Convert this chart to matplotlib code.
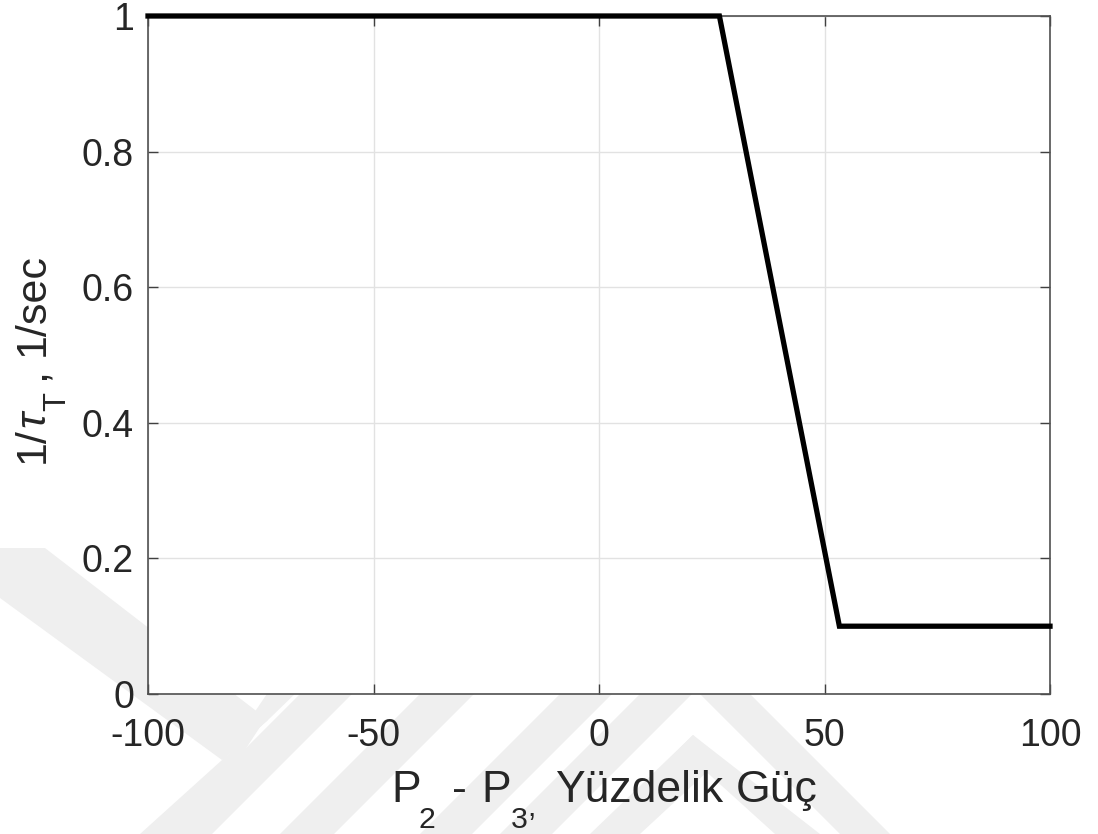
import matplotlib
matplotlib.use('Agg')
import matplotlib.pyplot as plt
from matplotlib.patches import Polygon

# Turbine time-constant schedule vs. power difference
p_diff = [-100, 26.7, 53.3, 100]
inv_tau = [1.0, 1.0, 0.1, 0.1]

x_ticks = [-100, -50, 0, 50, 100]
x_tick_labels = ['-100', '-50', '0', '50', '100']
y_ticks = [0, 0.2, 0.4, 0.6, 0.8, 1.0]
y_tick_labels = ['0', '0.2', '0.4', '0.6', '0.8', '1']

# label pieces: (text, size factor, drop below baseline in px, style, spaces before)
x_label_parts = [
    ('P', 1.0, 0, 'normal', 0),
    ('2', 0.68, 26, 'normal', -0.15),
    ('-', 1.0, 0, 'normal', 1.3),
    ('P', 1.0, 0, 'normal', 1.2),
    ('3', 0.68, 26, 'normal', 0),
    (',', 0.68, 14, 'normal', 0),
    ('Yüzdelik', 1.0, 0, 'normal', 1.5),
    ('Güç', 1.0, 0, 'normal', 1),
]
y_label_parts = [
    ('1/', 1.0, 0, 'normal', 0),
    ('τ', 1.0, 0, 'italic', 0),
    ('T', 0.72, 21, 'normal', 0),
    (',', 1.0, 0, 'normal', 1),
    ('1/sec', 1.0, 0, 'normal', 1),
]

plt.rcParams['font.family'] = ['Liberation Sans', 'DejaVu Sans']

W, H = 1098, 834
TXT = '#262626'
fig = plt.figure(figsize=(W / 100, H / 100), dpi=100)
renderer = fig.canvas.get_renderer()

# faint background stripes (pixel outlines, y measured from top)
stripes = [
    [(0, 548), (45, 548), (268, 720), (222, 760), (0, 598)],
    [(222, 760), (268, 720), (330, 660), (290, 660)],
    [(222, 760), (262, 724), (190, 834), (140, 834)],
    [(300, 694), (352, 694), (212, 834), (160, 834)],
    [(420, 694), (474, 694), (334, 834), (280, 834)],
    [(560, 694), (612, 694), (472, 834), (420, 834)],
    [(640, 694), (692, 694), (552, 834), (500, 834)],
    [(693, 735), (720, 760), (640, 834), (590, 834)],
    [(693, 735), (680, 748), (775, 834), (820, 834)],
    [(700, 694), (750, 694), (890, 834), (840, 834)],
]
for pts in stripes:
    fig.patches.append(Polygon([(x / W, 1 - y / H) for x, y in pts],
                               closed=True, transform=fig.transFigure,
                               facecolor='#efefef', edgecolor='none', zorder=0))

ax = fig.add_axes([148 / W, 1 - 694 / H, 902 / W, 678 / H])
ax.set_facecolor('white')
ax.set_zorder(1)

ax.plot(p_diff, inv_tau, color='black', linewidth=3.8, clip_on=False,
        solid_joinstyle='miter', zorder=3)

ax.set_xlim(-100, 100)
ax.set_ylim(0, 1)
ax.set_xticks(x_ticks)
ax.set_xticklabels(x_tick_labels)
ax.set_yticks(y_ticks)
ax.set_yticklabels(y_tick_labels)

ax.grid(True, color='#e2e2e2', linewidth=1.0)
ax.set_axisbelow(True)
ax.tick_params(direction='in', length=7, width=1.0, color='#404040',
               labelsize=27, labelcolor=TXT, top=True, right=True)
ax.tick_params(axis='x', pad=17)
ax.tick_params(axis='y', pad=10)
for s in ax.spines.values():
    s.set_color('#505050')
    s.set_linewidth(1.2)


def ink_width(s, size, style='normal'):
    t = fig.text(0, 0, s, fontsize=size, fontstyle=style)
    w = t.get_window_extent(renderer).width
    t.remove()
    return w


def advance(s, size, style='normal'):
    return ink_width(s + 'l', size, style) - ink_width('l', size, style)


def draw_label(parts, size, centre, baseline, vertical=False):
    """Lay out text pieces with sub-baseline offsets (TeX-style subscripts)."""
    space = ink_width('a a', size) - ink_width('aa', size)
    steps = []
    pos = 0.0
    for text, k, drop, style, sp in parts:
        pos += sp * space
        steps.append((pos, text, size * k, drop, style))
        pos += advance(text, size * k, style)
    start = centre - pos / 2 if not vertical else centre + pos / 2
    for off, text, fs, drop, style in steps:
        if vertical:
            x, y, rot = baseline + drop, start - off, 90
        else:
            x, y, rot = start + off, baseline + drop, 0
        fig.text(x / W, 1 - y / H, text, fontsize=fs, fontstyle=style,
                 color=TXT, ha='left', va='baseline', rotation=rot,
                 rotation_mode='anchor')


draw_label(x_label_parts, 32, 604, 802)
draw_label(y_label_parts, 31, 358, 44, vertical=True)

fig.savefig('out.png', dpi=100)
